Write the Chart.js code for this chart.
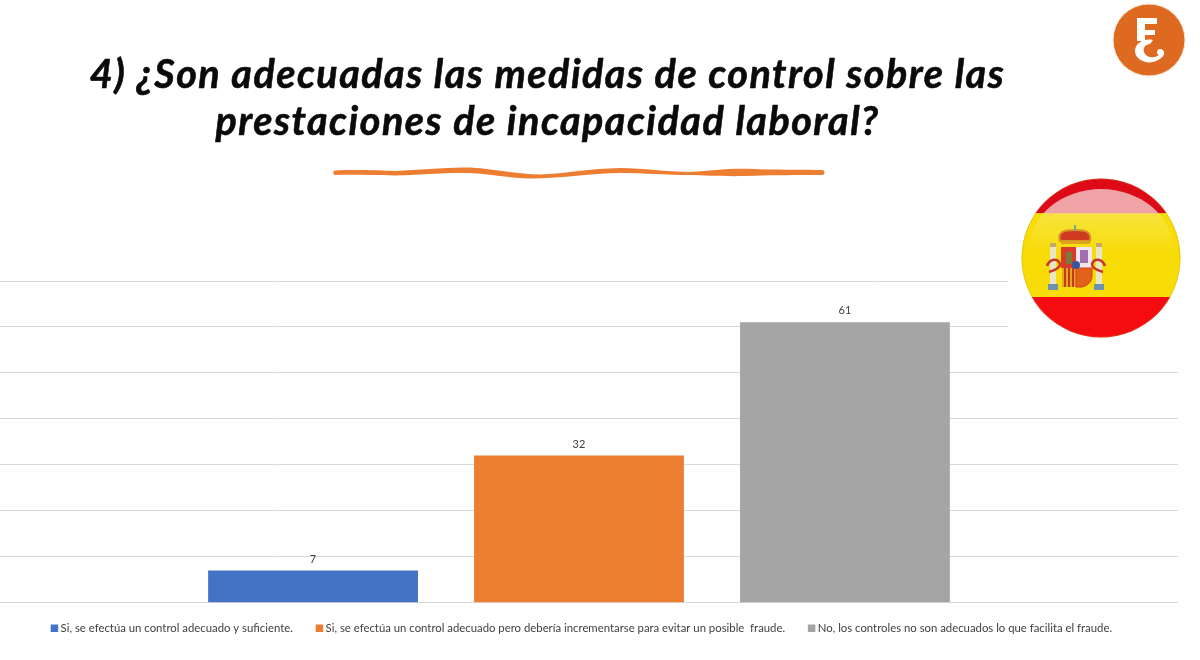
<!DOCTYPE html>
<html><head><meta charset="utf-8">
<style>
html,body{margin:0;padding:0;background:#fff;overflow:hidden;width:1200px;height:660px}
#wrap{position:absolute;left:-20px;top:0;width:1198px;height:660px}
#title{position:absolute;left:0;top:49px;width:1095px;text-align:center;font:italic 700 39.5px/47px Lato,sans-serif;color:#0a0a0a;letter-spacing:1.5px;-webkit-text-stroke:.6px #0a0a0a;z-index:3}
svg{position:absolute;left:0;top:0;z-index:2}
</style></head><body>
<div id="wrap"><canvas id="c" width="1198" height="660" style="width:1198px;height:660px"></canvas></div>
<div id="title">4) ¿Son adecuadas las medidas de control sobre las<br>prestaciones de incapacidad laboral?</div>
<svg width="1200" height="660" viewBox="0 0 1200 660">
  <defs>
    <clipPath id="fc"><circle cx="1101" cy="258" r="79.5"/></clipPath>
    <clipPath id="gc"><ellipse cx="1101" cy="250" rx="72" ry="61"/></clipPath>
    <linearGradient id="gy" x1="0" y1="0" x2="0" y2="1"><stop offset="0" stop-color="#fff" stop-opacity=".22"/><stop offset="1" stop-color="#fff" stop-opacity="0"/></linearGradient>
    <filter id="bl" x="-10%" y="-10%" width="120%" height="120%"><feGaussianBlur stdDeviation=".6"/></filter>
    <filter id="bs"><feGaussianBlur stdDeviation=".5"/></filter>
  </defs>
  <path d="M335 170.500 C355 169.500 380 170.500 395 171 C420 170 445 167 470 167.500 C495 169 515 174 540 174.500 C565 173.500 590 168.500 620 168 C645 168.500 665 171.500 690 172 C710 171 725 168.500 745 168.800 C775 170 800 170 822 170 A2.500 2.500 0 0 1 822 175 C800 175 775 175 745 176 C725 176.500 705 175.500 690 175 C665 175 645 173 620 173 C590 173.500 565 178 530 178.500 C505 177.500 490 174 470 173 C440 172.500 420 175 395 175.500 C375 175.500 350 174.500 335 175 A2.300 2.300 0 0 1 335 170.500 Z" fill="#ed7d31"/>
  <circle cx="1149" cy="40" r="36" fill="#dd6a20" stroke="#f8e3d1" stroke-width="1"/>
  <g filter="url(#bs)" fill="#fff">
    <path d="M1137 18H1157V24H1145V30H1155V35H1145V41H1137Z"/>
    <path d="M1153 40C1143 38 1135 44 1135 51C1135 59 1145 64 1153 62C1160 60 1165 56 1164 52C1163 48 1157 48 1157 52C1157 54 1158 55 1159 55C1155 58 1149 58 1146 55C1142 51 1143 45 1150 44Z"/>
  </g>
  <rect x="1008" y="160" width="184" height="186" fill="#fff"/>
  <g clip-path="url(#fc)">
    <rect x="1020" y="178" width="165" height="36" fill="#dd0a18"/>
    <rect x="1020" y="213" width="165" height="85" fill="#f7dc08"/>
    <rect x="1020" y="297" width="165" height="42" fill="#f40c10"/>
    <g clip-path="url(#gc)">
      <rect x="1020" y="189" width="165" height="24.500" fill="#efa3a6"/>
      <rect x="1020" y="213" width="165" height="40" fill="url(#gy)"/>
    </g>
  </g>
  <circle cx="1101" cy="258" r="79" fill="none" stroke="#b89a20" stroke-opacity=".3" stroke-width="1"/>
  <g filter="url(#bl)">
    <path d="M1060 241C1057 232 1064 230 1075 230C1086 230 1092 232 1090 241Z" fill="#cf3a22" stroke="#d69520" stroke-width="2"/>
    <rect x="1074" y="225" width="2" height="6" fill="#79a88a"/>
    <rect x="1061" y="241" width="29" height="3" fill="#e0a020"/>
    <rect x="1061" y="247" width="15" height="21" fill="#d83a2a"/>
    <rect x="1066" y="252" width="6" height="12" fill="#7c7a3a"/>
    <rect x="1076" y="247" width="16" height="21" fill="#f3e6ee"/>
    <rect x="1080" y="250" width="8" height="13" fill="#a070b0"/>
    <rect x="1062" y="268" width="14" height="19" fill="#e4a81e"/>
    <rect x="1064" y="268" width="2" height="19" fill="#c8381f"/><rect x="1068" y="268" width="2" height="19" fill="#c8381f"/><rect x="1072" y="268" width="2" height="19" fill="#c8381f"/>
    <path d="M1076 268H1092V276C1092 283 1085 288 1078 287L1076 287Z" fill="#e2621f" stroke="#d0401a"/>
    <circle cx="1076" cy="265" r="4" fill="#3557a5"/>
    <rect x="1050" y="243" width="6" height="4" fill="#c9a76a"/><rect x="1096" y="243" width="6" height="4" fill="#c9a76a"/>
    <rect x="1050" y="247" width="6" height="37" fill="#e9e6c8"/><rect x="1096" y="247" width="6" height="37" fill="#e9e6c8"/>
    <rect x="1048" y="284" width="10" height="6" fill="#6c93b0"/><rect x="1094" y="284" width="10" height="6" fill="#6c93b0"/>
    <path d="M1047 266C1050 258 1058 258 1060 264C1060 268 1056 270 1049 272M1105 266C1102 258 1094 258 1092 264C1092 268 1096 270 1103 272" stroke="#c8352a" stroke-width="2.500" fill="none"/>
  </g>
</svg>
<script src="https://cdn.jsdelivr.net/npm/chart.js@4"></script>
<script>
const categories = [""];
const seriesNames = [
  "Si, se efectúa un control adecuado y suficiente.",
  "Si, se efectúa un control adecuado pero debería incrementarse para evitar un posible  fraude.",
  "No, los controles no son adecuados lo que facilita el fraude."
];
const seriesValues = [[7],[32],[61]];
const seriesColors = ["#4472c4","#ed7d31","#a5a5a5"];
const axisMax = 70, axisStep = 10;

const valueLabels = {
  id:"valueLabels",
  afterDatasetsDraw(chart){
    const ctx = chart.ctx;
    ctx.save();
    ctx.font = "11px Lato, sans-serif";
    ctx.fillStyle = "#404040";
    ctx.textAlign = "center";
    ctx.textBaseline = "bottom";
    chart.data.datasets.forEach((d,i)=>{
      chart.getDatasetMeta(i).data.forEach((el,j)=>ctx.fillText(d.data[j], el.x, el.y-6));
    });
    ctx.restore();
  }
};
const moveLegend = { id:"moveLegend", afterLayout(chart){ const l=chart.legend; l.top -= 14; l.bottom -= 14; l.left += 4; l.right += 4; } };
new Chart(document.getElementById("c"),{
  type:"bar",
  data:{labels:categories,datasets:seriesNames.map((n,i)=>({label:n,data:seriesValues[i],backgroundColor:seriesColors[i],categoryPercentage:0.666,barPercentage:0.789}))},
  plugins:[valueLabels,moveLegend],
  options:{
    responsive:false,animation:false,
    layout:{padding:{top:281,bottom:2,left:0,right:0}},
    plugins:{
      tooltip:{enabled:false},
      legend:{position:"bottom",labels:{boxWidth:1,boxHeight:1,padding:26,color:"#404040",font:{family:"Lato, sans-serif",size:11.35},
        generateLabels(chart){
          return Chart.defaults.plugins.legend.labels.generateLabels(chart).map((it,i)=>({...it,strokeStyle:seriesColors[i],lineWidth:6.5}));
        }}}
    },
    scales:{
      x:{grid:{display:false},border:{color:"#d9d9d9"},ticks:{display:false}},
      y:{min:0,max:axisMax,ticks:{display:false,stepSize:axisStep},grid:{color:"#d9d9d9",drawTicks:false},border:{display:false}}
    }
  }
});
</script>
</body></html>
